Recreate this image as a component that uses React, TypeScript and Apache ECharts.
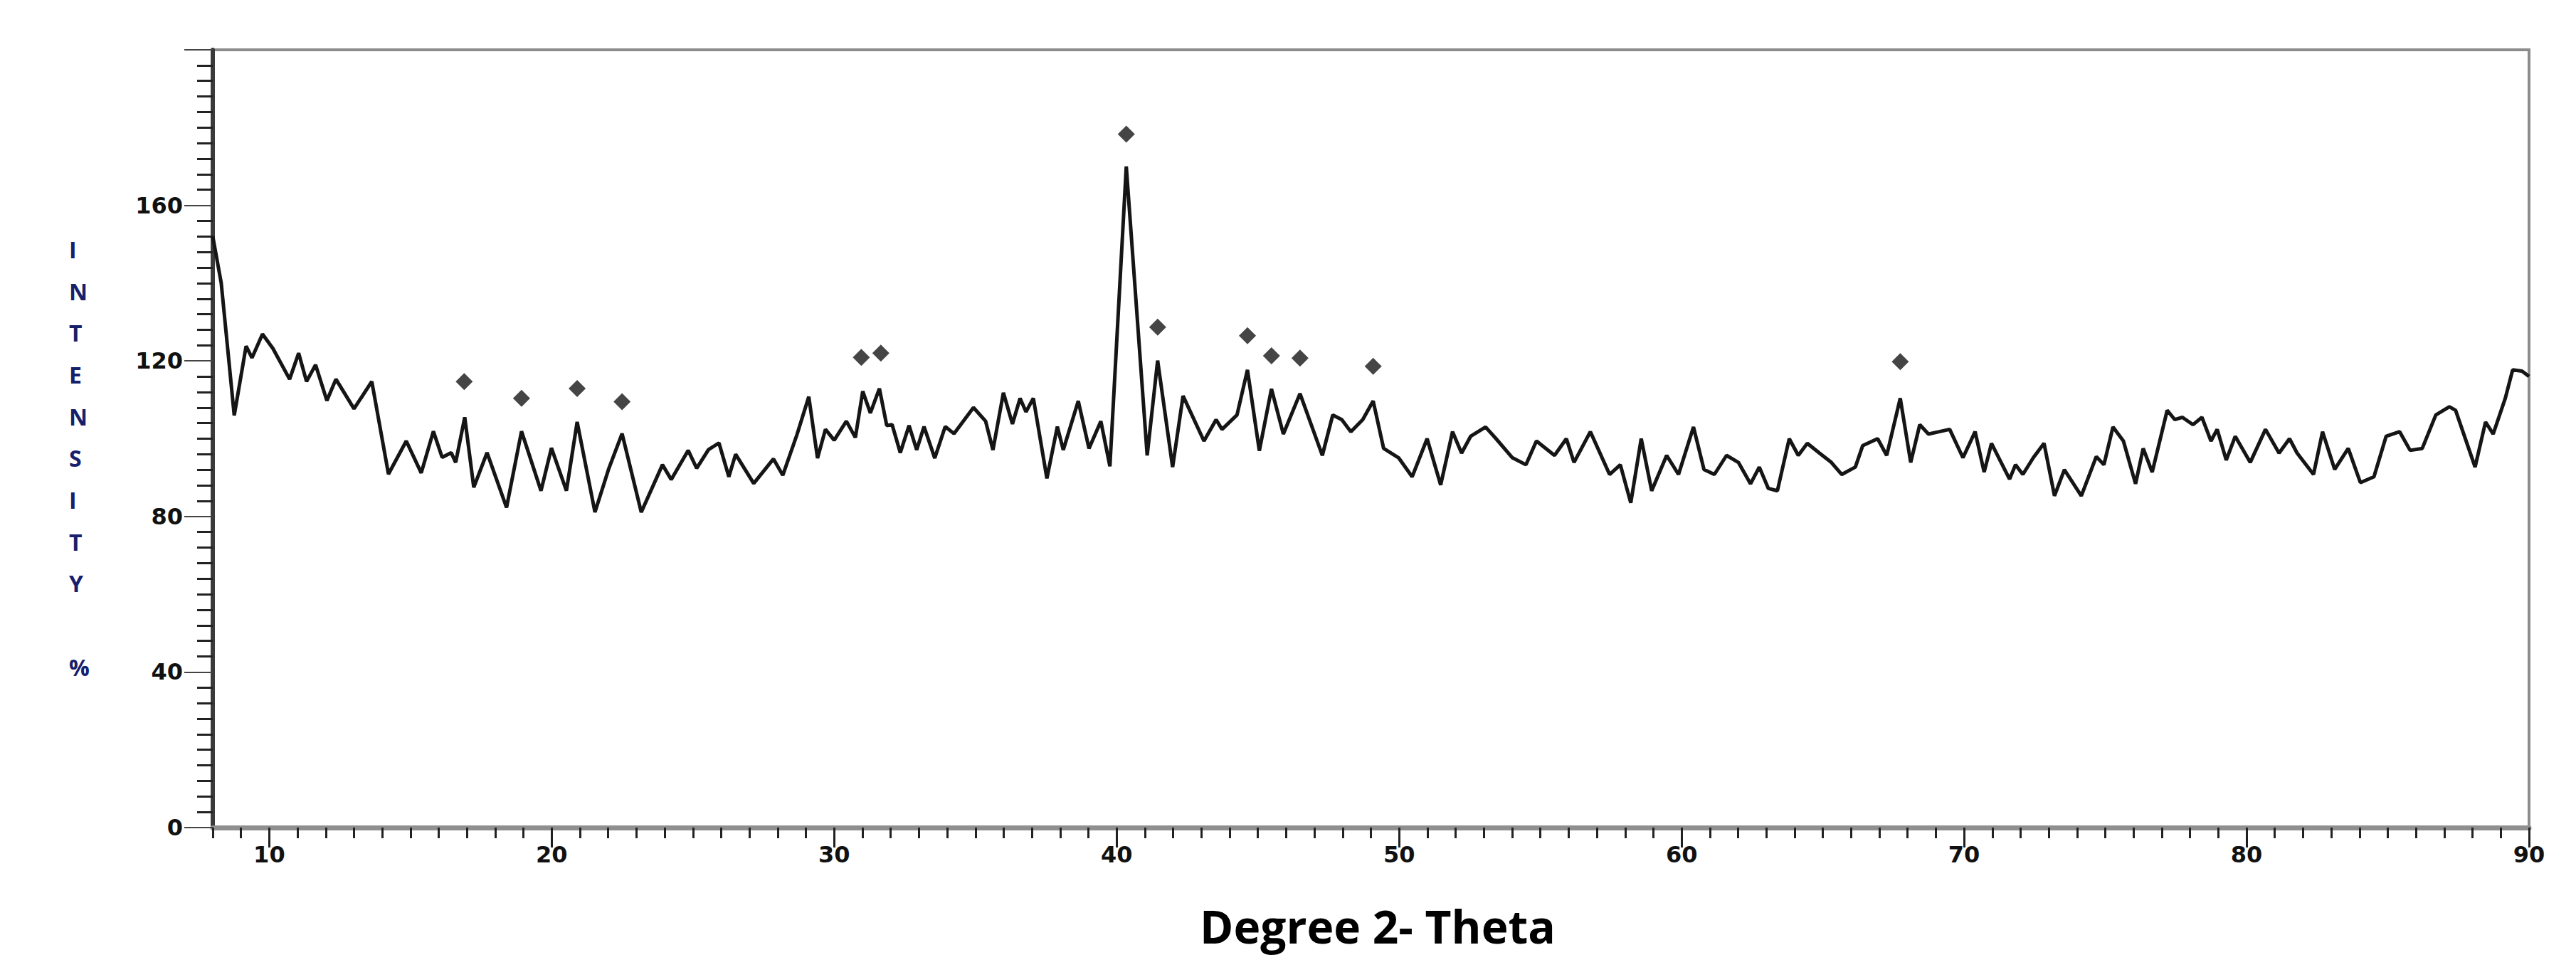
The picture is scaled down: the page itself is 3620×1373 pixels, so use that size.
import React, { useEffect, useRef } from 'react';
import * as echarts from 'echarts';

// 2-theta positions (degrees) of the trace vertices
const twoTheta = [
  8.0, 8.3, 8.76, 9.18, 9.39, 9.76, 10.13, 10.72, 11.04, 11.32,
  11.64, 12.04, 12.36, 13.0, 13.63, 14.22, 14.85, 15.38, 15.81, 16.12,
  16.44, 16.6, 16.92, 17.24, 17.71, 18.4, 18.93, 19.62, 19.99, 20.52,
  20.9, 21.53, 22.01, 22.49, 23.17, 23.92, 24.23, 24.83, 25.13, 25.55,
  25.92, 26.27, 26.51, 27.15, 27.85, 28.18, 28.68, 29.1, 29.41, 29.69,
  30.0, 30.43, 30.75, 31.01, 31.28, 31.6, 31.86, 32.05, 32.34, 32.65,
  32.92, 33.18, 33.56, 33.93, 34.24, 34.93, 35.36, 35.62, 35.99, 36.31,
  36.58, 36.79, 37.05, 37.53, 37.9, 38.11, 38.64, 39.02, 39.44, 39.76,
  40.34, 41.08, 41.45, 41.98, 42.35, 43.09, 43.52, 43.73, 44.26, 44.63,
  45.05, 45.48, 45.9, 46.49, 47.28, 47.65, 47.97, 48.29, 48.71, 49.08,
  49.45, 49.98, 50.46, 50.99, 51.47, 51.89, 52.21, 52.53, 53.06, 53.43,
  54.01, 54.49, 54.86, 55.5, 55.92, 56.19, 56.77, 57.45, 57.83, 58.2,
  58.57, 58.94, 59.47, 59.89, 60.42, 60.79, 61.16, 61.59, 62.01, 62.44,
  62.75, 63.07, 63.39, 63.81, 64.13, 64.45, 64.88, 65.3, 65.67, 66.15,
  66.41, 66.94, 67.26, 67.74, 68.11, 68.43, 68.74, 69.12, 69.49, 69.96,
  70.39, 70.71, 70.97, 71.61, 71.82, 72.08, 72.45, 72.83, 73.2, 73.55,
  74.15, 74.68, 74.95, 75.27, 75.64, 76.07, 76.34, 76.66, 77.19, 77.46,
  77.73, 78.1, 78.42, 78.74, 78.96, 79.28, 79.6, 80.13, 80.67, 81.15,
  81.52, 81.79, 82.37, 82.69, 83.12, 83.6, 84.03, 84.51, 84.94, 85.42,
  85.79, 86.22, 86.7, 87.18, 87.4, 88.09, 88.46, 88.73, 89.16, 89.42,
  89.75, 90.0,
];

// intensity (%) at each vertex
const intensity = [
  152, 140, 106, 123.8, 120.8, 126.9, 123.2, 115.3, 122.0, 114.7,
  119.0, 109.8, 115.3, 107.7, 114.7, 90.9, 99.4, 91.2, 101.9, 95.2,
  96.4, 93.9, 105.5, 87.5, 96.4, 82.3, 101.9, 86.6, 97.6, 86.6,
  104.3, 81.1, 92.1, 101.3, 81.1, 93.3, 89.5, 97, 92.4, 97.2,
  98.9, 90.2, 96, 88.5, 94.8, 90.6, 101, 110.8, 95, 102.4,
  99.6, 104.5, 100.3, 112.2, 106.6, 112.9, 103.4, 103.6, 96.4, 103.4,
  97.1, 103.1, 95.0, 103.1, 101.3, 108.0, 104.5, 97.1, 111.8, 103.8,
  110.4, 106.9, 110.4, 89.8, 103.1, 97.1, 109.7, 97.5, 104.5, 92.9,
  170.0, 95.7, 120.1, 92.7, 111.0, 99.4, 104.9, 102.4, 106.1, 117.7,
  96.9, 112.8, 101.2, 111.6, 95.7, 106.1, 104.9, 101.8, 104.9, 109.7,
  97.5, 95.1, 90.2, 100.0, 88.1, 101.8, 96.3, 100.6, 103.0, 100.0,
  95.1, 93.3, 99.4, 95.7, 100.0, 93.9, 101.8, 90.8, 93.3, 83.5,
  100.0, 86.6, 95.7, 90.8, 103.0, 92.1, 90.8, 95.7, 93.9, 88.4,
  92.7, 87.2, 86.6, 100.0, 95.7, 98.8, 96.3, 93.9, 90.8, 92.7,
  98.2, 100.0, 95.7, 110.4, 93.9, 103.6, 101.2, 101.8, 102.4, 95.1,
  101.8, 91.4, 98.8, 89.6, 93.3, 90.8, 95.1, 98.8, 85.3, 92,
  85.3, 95.4, 93.3, 103.0, 99.4, 88.4, 97.5, 91.4, 107.3, 104.9,
  105.5, 103.6, 105.5, 99.4, 102.4, 94.5, 100.6, 93.9, 102.4, 96.3,
  100.0, 96.3, 90.8, 101.8, 92.1, 97.5, 88.7, 90.2, 100.6, 101.8,
  97.0, 97.5, 106.1, 108.2, 107.3, 92.7, 104.3, 101.2, 110.4, 117.7,
  117.4, 116,
];

// diamond peak markers
const markerTheta = [16.9, 18.93, 20.9, 22.49, 30.96, 31.65, 40.34, 41.45, 44.63, 45.48, 46.49, 49.08, 67.74];
const markerIntensity = [114.7, 110.4, 112.9, 109.5, 120.9, 122.0, 178.3, 128.7, 126.5, 121.3, 120.7, 118.6, 119.8];

const xTickLabels = [10, 20, 30, 40, 50, 60, 70, 80, 90];
const yTickLabels = [0, 40, 80, 120, 160];
const yTitleLetters = ['I', 'N', 'T', 'E', 'N', 'S', 'I', 'T', 'Y', '', '%'];
const xTitle = 'Degree 2- Theta';

export default function App() {
  const ref = useRef<HTMLDivElement>(null);

  useEffect(() => {
    if (!ref.current) return;
    const chart = echarts.init(ref.current, null, { renderer: 'svg' });
    const n = Math.min(twoTheta.length, intensity.length);
    const lineData: number[][] = [];
    for (let i = 0; i < n; i++) lineData.push([twoTheta[i], intensity[i]]);
    const markData = markerTheta.map((x, i) => [x, markerIntensity[i]]);

    chart.setOption({
      animation: false,
      backgroundColor: '#ffffff',
      grid: {
        left: 299,
        right: 66,
        top: 70,
        bottom: 210,
        show: true,
        borderColor: '#8c8c8c',
        borderWidth: 4,
        backgroundColor: 'transparent',
      },
      xAxis: [
        {
          type: 'value',
          min: 8,
          max: 90,
          position: 'bottom',
          axisLine: { show: true, onZero: false, lineStyle: { color: '#8f8f8f', width: 7 } },
          axisTick: {
            show: true,
            customValues: xTickLabels,
            length: 28,
            lineStyle: { color: '#1e1e1e', width: 3 },
          },
          axisLabel: {
            show: true,
            customValues: xTickLabels,
            margin: 22,
            fontSize: 32,
            fontWeight: 'bold',
            fontFamily: 'DejaVu Sans',
            color: '#111111',
          },
          splitLine: { show: false },
        },
        {
          type: 'value',
          min: 8,
          max: 90,
          interval: 1,
          position: 'bottom',
          gridIndex: 0,
          axisLine: { show: false, onZero: false },
          axisTick: { show: true, length: 15, lineStyle: { color: '#222222', width: 3 } },
          axisLabel: { show: false },
          splitLine: { show: false },
        },
      ],
      yAxis: {
        type: 'value',
        min: 0,
        max: 200,
        interval: 40,
        axisLine: { show: true, onZero: false, lineStyle: { color: '#3a3a3a', width: 6 } },
        axisTick: { show: true, length: 40, lineStyle: { color: '#444444', width: 2 } },
        minorTick: { show: true, splitNumber: 10, length: 22, lineStyle: { color: '#222222', width: 3 } },
        axisLabel: {
          margin: 42,
          fontSize: 32,
          fontWeight: 'bold',
          fontFamily: 'DejaVu Sans',
          color: '#111111',
          formatter: (v: number) => (yTickLabels.indexOf(v) >= 0 ? String(v) : ''),
        },
        splitLine: { show: false },
        minorSplitLine: { show: false },
      },
      series: [
        {
          type: 'line',
          xAxisIndex: 0,
          data: lineData,
          showSymbol: false,
          symbol: 'none',
          lineStyle: { color: '#151515', width: 5 },
          z: 3,
        },
        {
          type: 'scatter',
          xAxisIndex: 0,
          data: markData,
          symbol: 'diamond',
          symbolSize: 24,
          itemStyle: { color: '#161616' },
          z: 4,
        },
      ],
      graphic: [
        {
          type: 'text',
          x: 97,
          y: 321,
          style: {
            text: yTitleLetters.join('\n'),
            fontSize: 32,
            fontWeight: 'bold',
            fontFamily: '"Open Sans"',
            lineHeight: 58.7,
            fill: '#17206b',
            align: 'left',
            verticalAlign: 'top',
          },
        },
        {
          type: 'text',
          x: 1936,
          y: 1301,
          style: {
            text: xTitle,
            fontSize: 64,
            fontWeight: 'bold',
            fontFamily: '"Open Sans"',
            fill: '#000000',
            align: 'center',
            verticalAlign: 'middle',
          },
        },
      ],
    });

    return () => {
      chart.dispose();
    };
  }, []);

  return (
    <div
      ref={ref}
      style={{ position: 'fixed', left: 0, top: 0, width: 3620, height: 1373, background: '#ffffff' }}
    />
  );
}
